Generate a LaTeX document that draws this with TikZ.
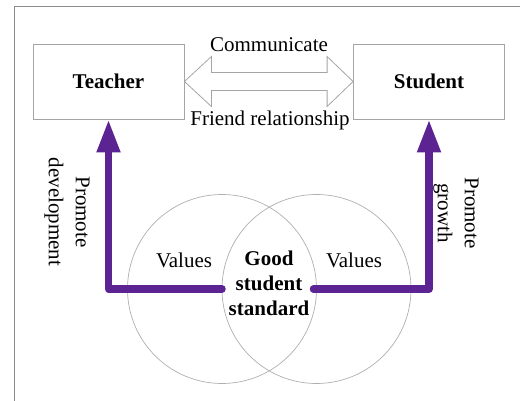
\documentclass[tikz,border=0pt]{standalone}
\usepackage{fontspec}
\setmainfont{Liberation Serif}
\usetikzlibrary{arrows.meta,calc}
\definecolor{pur}{RGB}{92,36,146}
\definecolor{framegray}{RGB}{140,140,140}
\definecolor{boxgray}{RGB}{165,165,165}
\definecolor{circgray}{RGB}{175,175,175}
\tikzset{
  every node/.style={font=\fontsize{21}{27}\selectfont},
  box/.style={draw=boxgray, line width=0.8pt, minimum width=151pt, minimum height=75pt, inner sep=0pt, font=\fontsize{21}{27}\selectfont\bfseries},
  ring/.style={draw=circgray, line width=0.7pt, circle, minimum size=189pt, inner sep=0pt},
  twoway/.style={draw=boxgray, line width=0.8pt, line join=miter},
  promote/.style={draw=pur, line width=7.5pt, line cap=round, line join=round, -{Triangle[length=33pt,width=22pt]}},
  lbl/.style={font=\fontsize{21}{27}\selectfont, align=center, inner sep=0pt},
  core/.style={font=\fontsize{21}{25}\selectfont\bfseries, align=center, inner sep=0pt}
}
\begin{document}
\begin{tikzpicture}[x=1pt,y=-1pt]
\useasboundingbox (0,0) rectangle (520,401);
% frame
\draw[framegray, line width=1pt] (14,401) -- (14,7) -- (520,7);
% boxes
\node[box] (teacher) at (108.5,81.5) {Teacher};
\node[box] (student) at (429,81.5) {Student};
% double arrow
\draw[twoway] (teacher.east) -- ++(27,-25) -- ++(0,16) -- ($(student.west)+(-26,-9)$) -- ++(0,-16) -- (student.west)
  -- ++(-26,25) -- ++(0,-16) -- ($(teacher.east)+(27,9)$) -- ++(0,16) -- cycle;
\node[lbl] (comm) at (269,45) {Communicate};
\node[lbl] (friend) at (270,120) {Friend relationship};
% circles
\node[ring] (lc) at (222,289) {};
\node[ring] (rc) at (316.5,289) {};
% purple connectors
\draw[promote] (lc.center) -| (teacher.south);
\coordinate (rstart) at ($(rc.center)+(-3,0)$);
\draw[promote] (rstart) -| (student.south);
% labels
\node[lbl] (vl) at (184,260) {Values};
\node[lbl] (vr) at (354,260) {Values};
\node[core] (good) at (269,283) {Good\\student\\standard};
\node[lbl, rotate=-90] (pd) at (67,212) {Promote\\development};
\node[lbl, rotate=-90] (pg) at (456,213) {Promote\\growth};
\end{tikzpicture}
\end{document}
